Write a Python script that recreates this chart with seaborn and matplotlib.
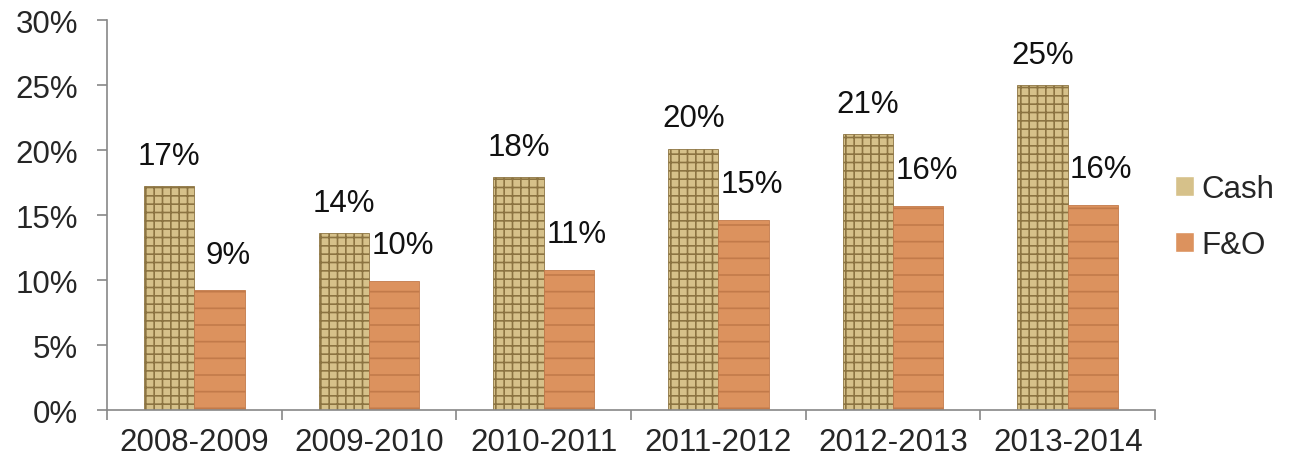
import matplotlib
matplotlib.use("Agg")
import matplotlib.pyplot as plt
import seaborn as sns
import pandas as pd
import numpy as np

years = ["2008-2009", "2009-2010", "2010-2011", "2011-2012", "2012-2013", "2013-2014"]
cash = [17.2, 13.6, 17.9, 20.1, 21.2, 25.0]
fno = [9.2, 9.9, 10.8, 14.6, 15.7, 15.8]
cash_labels = ["17%", "14%", "18%", "20%", "21%", "25%"]
fno_labels = ["9%", "10%", "11%", "15%", "16%", "16%"]
series = ["Cash", "F&O"]
yticks = [0, 5, 10, 15, 20, 25, 30]

df = pd.DataFrame({
    "year": years * 2,
    "value": cash + fno,
    "series": [series[0]] * len(years) + [series[1]] * len(years),
})

sns.set_theme(style="white")
plt.rcParams["font.family"] = ["Liberation Sans", "DejaVu Sans"]
plt.rcParams["hatch.linewidth"] = 1.2

FS = 22.5

fig = plt.figure(figsize=(12.92, 4.64), dpi=100)
ax = fig.add_axes([0.0828, 0.1142, 0.8112, 0.8405])

palette = {"Cash": "#d6c18a", "F&O": "#dc925e"}
sns.barplot(data=df, x="year", y="value", hue="series", palette=palette,
            width=0.575, dodge=True, ax=ax, legend=True, saturation=1)

# textures
hatch_style = {"Cash": ("++", "#8c7442"), "F&O": ("-", "#c27a4a")}
for cont, name in zip(ax.containers, series):
    h, ec = hatch_style[name]
    for p in cont.patches:
        p.set_hatch(h)
        p.set_edgecolor(ec)
        p.set_linewidth(0.6)

# value labels
for cont, labels, off in zip(ax.containers, [cash_labels, fno_labels], [(0, 11), (6, 15)]):
    for p, lab in zip(cont.patches, labels):
        ax.annotate(lab, (p.get_x() + p.get_width() / 2, p.get_height()),
                    xytext=off, textcoords="offset points", ha="center", va="bottom",
                    fontsize=FS, color="#111111")

ax.set_ylim(0, 30)
ax.set_xlim(-0.5, len(years) - 0.5)
ax.set_yticks(yticks)
ax.set_yticklabels([f"{v}%" for v in yticks], fontsize=FS)
ax.set_xticks(range(len(years)))
ax.set_xticklabels(years, fontsize=FS)
ax.set_xticks(np.arange(-0.5, len(years), 1.0), minor=True)
ax.tick_params(axis="x", which="major", length=0, pad=12)
ax.tick_params(axis="x", which="minor", length=7, width=1.2, color="#888888", direction="out", bottom=True)
ax.tick_params(axis="y", which="major", length=7, width=1.2, color="#888888", direction="out", left=True, pad=14)
ax.set_xlabel("")
ax.set_ylabel("")
for s in ["top", "right"]:
    ax.spines[s].set_visible(False)
for s in ["left", "bottom"]:
    ax.spines[s].set_color("#888888")
    ax.spines[s].set_linewidth(1.2)

leg = ax.legend(loc="center left", bbox_to_anchor=(0.992, 0.495), frameon=False,
                fontsize=FS, handlelength=0.6, handleheight=0.6, handletextpad=0.25,
                labelspacing=0.85)

fig.savefig("out.png", dpi=100)
